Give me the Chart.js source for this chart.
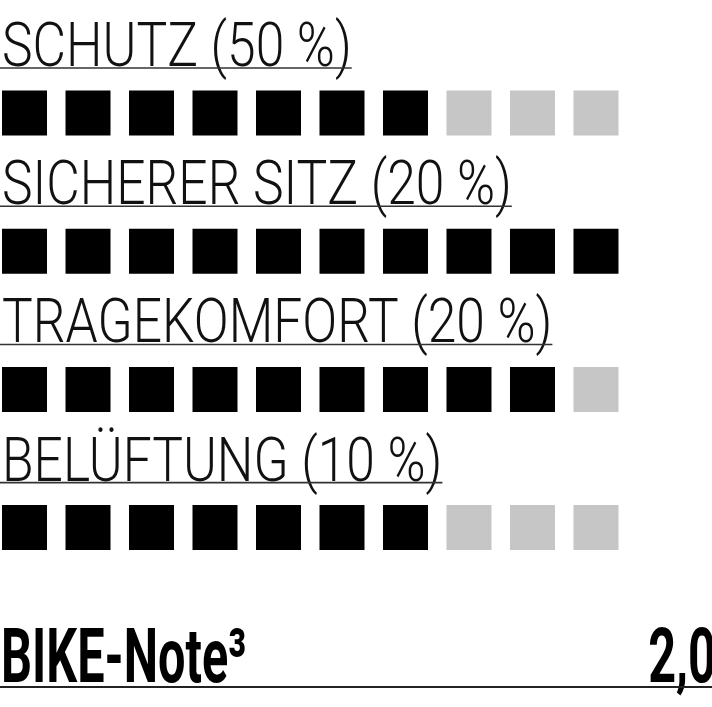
<!DOCTYPE html>
<html>
<head>
<meta charset="utf-8">
<script src="https://cdn.jsdelivr.net/npm/chart.js@4.4.1/dist/chart.umd.min.js"></script>
<style>
    html, body { margin: 0; padding: 0; background: #fff; }
    #chart { display: block; }
</style>
</head>
<body>
<canvas id="chart" width="712" height="707"></canvas>
<script>
// Datos del gráfico: categorías, ponderación y puntos (de 10).
const categorias = ['SCHUTZ', 'SICHERER SITZ', 'TRAGEKOMFORT', 'BELÜFTUNG'];
const pesos = [50, 20, 20, 10];
const puntos = [7, 10, 9, 7];
const MAX_PUNTOS = 10;
const notaTitulo = 'BIKE-Note³';
const notaValor = '2,0';

// Colores de los cuadros.
const COLOR_LLENO = '#000000';
const COLOR_VACIO = '#c6c6c6';
// Factores para estrechar el texto (fuente condensada).
const ESTRECHO = 0.845;
const ESTRECHO_NEGRITA = 0.64;

// Se construyen los puntos a partir de los arreglos.
const datos = [];
const colores = [];
categorias.forEach((cat, fila) => {
    for (let i = 0; i < MAX_PUNTOS; i++) {
        datos.push({ x: i, y: fila });
        colores.push(i < puntos[fila] ? COLOR_LLENO : COLOR_VACIO);
    }
});

// Dibuja texto condensado y devuelve su ancho.
const textoEstrecho = (ctx, texto, x, y, align, factor) => {
    const ancho = ctx.measureText(texto).width * factor;
    ctx.save();
    ctx.translate(align === 'right' ? x - ancho : x, y);
    ctx.scale(factor, 1);
    ctx.textAlign = 'left';
    ctx.fillText(texto, 0, 0);
    ctx.restore();
    return ancho;
};

// Plugin para los títulos subrayados y la nota final.
const etiquetas = {
    id: 'etiquetas',
    afterDraw(chart) {
        const ctx = chart.ctx;
        const yScale = chart.scales.y;
        ctx.save();
        ctx.fillStyle = '#111';
        ctx.strokeStyle = '#333';
        ctx.textBaseline = 'alphabetic';
        categorias.forEach((cat, fila) => {
            const y = yScale.getPixelForValue(fila);
            const linea = y - 45;
            ctx.font = '300 61px Roboto';
            const ancho = textoEstrecho(ctx, `${cat} (${pesos[fila]} %)`, 2, linea - 2, 'left', ESTRECHO);
            ctx.lineWidth = 1.6;
            ctx.beginPath();
            ctx.moveTo(0, linea);
            ctx.lineTo(ancho + 2, linea);
            ctx.stroke();
        });
        // Nota final.
        const base = chart.chartArea.bottom - 25;
        ctx.fillStyle = '#000';
        ctx.font = 'bold 76px Roboto';
        textoEstrecho(ctx, notaTitulo, 1, base, 'left', ESTRECHO_NEGRITA);
        textoEstrecho(ctx, notaValor, chart.width + 4, base, 'right', ESTRECHO_NEGRITA);
        ctx.lineWidth = 2;
        ctx.strokeStyle = '#222';
        ctx.beginPath();
        ctx.moveTo(0, base + 5);
        ctx.lineTo(chart.width, base + 5);
        ctx.stroke();
        ctx.restore();
    }
};

new Chart(document.getElementById('chart').getContext('2d'), {
    type: 'scatter',
    data: {
        datasets: [{
            data: datos,
            backgroundColor: colores,
            borderWidth: 0,
            pointStyle: 'rect',
            pointRadius: 45 / Math.SQRT2,
            pointHoverRadius: 45 / Math.SQRT2
        }]
    },
    options: {
        responsive: false,
        animation: false,
        events: [],
        layout: { padding: 0, autoPadding: false },
        plugins: {
            legend: { display: false },
            tooltip: { enabled: false }
        },
        scales: {
            x: { display: false, min: -0.386, max: 10.827 },
            y: { display: false, reverse: true, min: -0.818, max: 4.298 }
        }
    },
    plugins: [etiquetas]
});
</script>
</body>
</html>
